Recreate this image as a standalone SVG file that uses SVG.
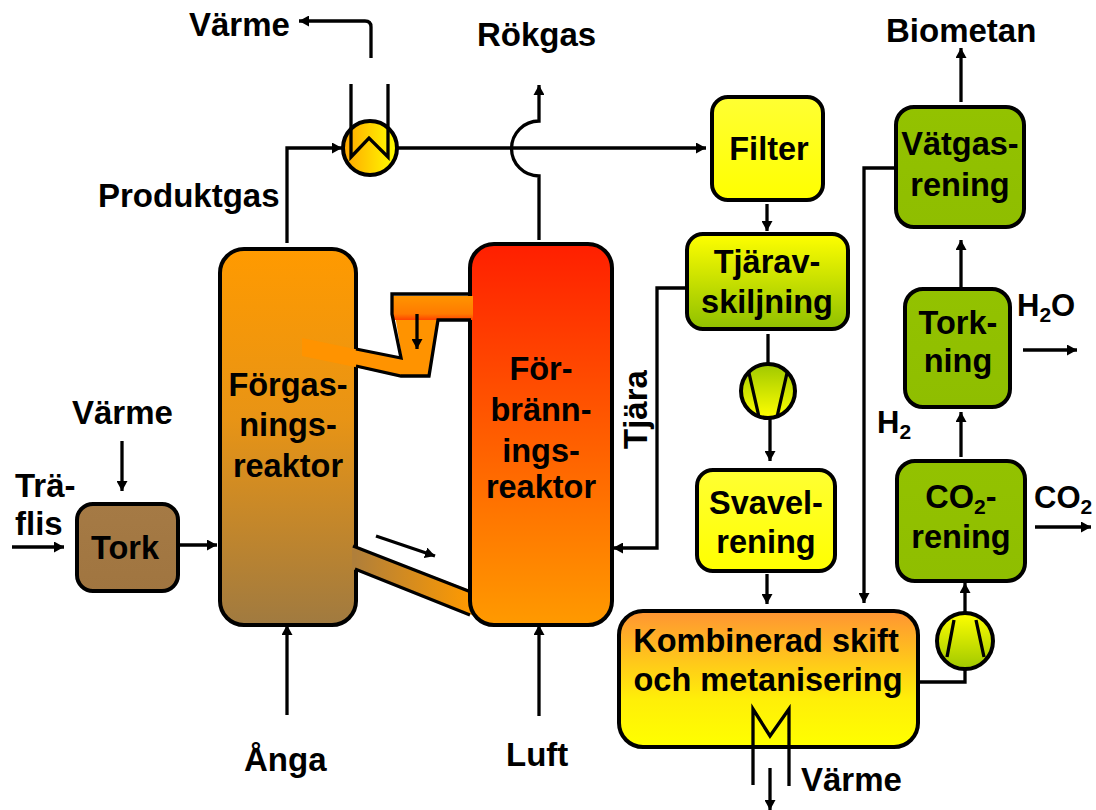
<svg xmlns="http://www.w3.org/2000/svg" width="1096" height="810" viewBox="0 0 1096 810">
<defs>
<marker id="a" markerUnits="userSpaceOnUse" markerWidth="11" markerHeight="11" refX="10" refY="5.500" orient="auto"><path d="M0 0L10 5.500L0 11z" fill="#000"/></marker>
<linearGradient id="gTork" x1="0" y1="0" x2="0" y2="1"><stop offset="0" stop-color="#a57a45"/><stop offset="1" stop-color="#a07540"/></linearGradient>
<linearGradient id="gFor" x1="0" y1="0" x2="0" y2="1"><stop offset="0" stop-color="#ff9a00"/><stop offset=".45" stop-color="#e89415"/><stop offset="1" stop-color="#a07a40"/></linearGradient>
<linearGradient id="gBr" x1="0" y1="0" x2="0" y2="1"><stop offset="0" stop-color="#ff1f00"/><stop offset="1" stop-color="#ff9a00"/></linearGradient>
<linearGradient id="gYel" x1="0" y1="0" x2="0" y2="1"><stop offset="0" stop-color="#ffff33"/><stop offset="1" stop-color="#ffff00"/></linearGradient>
<linearGradient id="gTj" x1="0" y1="0" x2="0" y2="1"><stop offset="0" stop-color="#ffff00"/><stop offset="1" stop-color="#8fc000"/></linearGradient>
<linearGradient id="gGr" x1="0" y1="0" x2="0" y2="1"><stop offset="0" stop-color="#93c200"/><stop offset="1" stop-color="#8fbe00"/></linearGradient>
<linearGradient id="gKomb" x1="0" y1="0" x2="0" y2="1"><stop offset="0" stop-color="#ff9433"/><stop offset=".65" stop-color="#ffef08"/><stop offset="1" stop-color="#ffff00"/></linearGradient>
<linearGradient id="gHx" x1="0" y1="0" x2="1" y2="0"><stop offset="0" stop-color="#ffa500"/><stop offset="1" stop-color="#ffff00"/></linearGradient>
<linearGradient id="gC1" x1="0" y1="0" x2="0" y2="1"><stop offset="0" stop-color="#9fc800"/><stop offset="1" stop-color="#ffff00"/></linearGradient>
<linearGradient id="gC2" x1="0" y1="0" x2="0" y2="1"><stop offset="0" stop-color="#ffff00"/><stop offset="1" stop-color="#9fc800"/></linearGradient>
<linearGradient id="gUpper" gradientUnits="userSpaceOnUse" x1="0" y1="295" x2="0" y2="322"><stop offset="0" stop-color="#ff9600"/><stop offset=".7" stop-color="#ff7a00"/><stop offset="1" stop-color="#ff3000"/></linearGradient>
<linearGradient id="gLow" gradientUnits="userSpaceOnUse" x1="355" y1="0" x2="472" y2="0"><stop offset="0" stop-color="#b07f3a"/><stop offset="1" stop-color="#ff9a00"/></linearGradient>
<style>
text{font-family:"Liberation Sans",Arial,sans-serif;font-weight:700;font-size:32.500px;fill:#000}
.m{text-anchor:middle}
.n{stroke:#000;stroke-width:4}
.l{fill:none;stroke:#000;stroke-width:3.300}
.s{font-size:21px}
#labels text{font-size:33px}
#labels .c{font-size:31px}
#labels tspan.s{font-size:21px}
</style>
</defs>
<g id="tork"><rect class="n" x="77" y="504" width="101" height="87" rx="16" fill="url(#gTork)"/><text class="m" x="125" y="559">Tork</text></g>
<g id="forgasning">
<rect class="n" x="220" y="249" width="136" height="376" rx="24" fill="url(#gFor)"/>
<path d="M352 545L472 591V615L352 569z" fill="url(#gLow)"/>
<path d="M353 546L471 592M355 569L470 615" class="l"/>
<text class="m" x="288" y="396">Förgas-</text><text class="m" x="288" y="436">nings-</text><text class="m" x="288" y="477">reaktor</text></g>
<g id="forbranning">
<rect class="n" x="470" y="244" width="142" height="381" rx="24" fill="url(#gBr)"/>
<text class="m" x="541" y="380">För-</text><text class="m" x="541" y="421">bränn-</text><text class="m" x="541" y="462">ings-</text><text class="m" x="541" y="498">reaktor</text></g>
<g id="loop-seal">
<path d="M302 338L355 349L402 358L392 296H473V320H438L430 377H401L355 367L302 356z" fill="#ff9300"/>
<path d="M393 296H473V320H393z" fill="url(#gUpper)"/>
<path d="M356 349L401 358L392 314V294H471M471 320H438L429 376H401L356 366" class="l"/>
</g>
<g id="warmex"><circle class="n" cx="370" cy="148" r="27" fill="url(#gHx)"/><path class="l" d="M351 84V157L369 138L388 157V84"/></g>
<g id="filter"><rect class="n" x="712" y="97" width="111" height="103" rx="16" fill="url(#gYel)"/><text class="m" x="769" y="160">Filter</text></g>
<g id="tjarav"><rect class="n" x="687" y="234" width="161" height="95" rx="16" fill="url(#gTj)"/><text class="m" x="767" y="273">Tjärav-</text><text class="m" x="767" y="313">skiljning</text></g>
<g id="komp1"><circle class="n" cx="768" cy="391" r="27" fill="url(#gC1)"/><path class="l" d="M749 373L759 417M787 373L777 417"/></g>
<g id="svavel"><rect class="n" x="697" y="470" width="138" height="101" rx="16" fill="url(#gYel)"/><text class="m" x="766" y="514">Svavel-</text><text class="m" x="766" y="553">rening</text></g>
<g id="kombinerad"><rect class="n" x="619" y="611" width="299" height="136" rx="24" fill="url(#gKomb)"/><text class="m" x="766" y="652">Kombinerad skift</text><text class="m" x="768" y="691">och metanisering</text><path class="l" d="M753 785V709L770 736L789 709V786"/></g>
<g id="komp2"><circle class="n" cx="965" cy="641" r="28" fill="url(#gC2)"/><path class="l" d="M954 620L947 657M976 620L984 657"/></g>
<g id="co2"><rect class="n" x="897" y="461" width="128" height="120" rx="18" fill="url(#gGr)"/><text class="m" x="961" y="508">CO<tspan class="s" dy="6">2</tspan><tspan dy="-6">-</tspan></text><text class="m" x="961" y="548">rening</text></g>
<g id="torkning"><rect class="n" x="905" y="289" width="105" height="118" rx="18" fill="url(#gGr)"/><text class="m" x="958" y="334">Tork-</text><text class="m" x="958" y="372">ning</text></g>
<g id="vatgas"><rect class="n" x="896" y="107" width="128" height="120" rx="18" fill="url(#gGr)"/><text class="m" x="960" y="155">Vätgas-</text><text class="m" x="960" y="196">rening</text></g>
<g id="connectors" class="l">
<path d="M12 547H64" marker-end="url(#a)"/>
<path d="M122 441V491" marker-end="url(#a)"/>
<path d="M180 545H217" marker-end="url(#a)"/>
<path d="M287 715V625" marker-end="url(#a)"/>
<path d="M539 716V625" marker-end="url(#a)"/>
<path d="M287 243V148H342" marker-end="url(#a)"/>
<path d="M398 148H706" marker-end="url(#a)"/>
<path d="M371 58V27Q371 21 365 21H299" marker-end="url(#a)"/>
<path d="M539 240V176A27.500 27.500 0 0 1 539 121V85" marker-end="url(#a)"/>
<path d="M767 204V231" marker-end="url(#a)"/>
<path d="M768 334V363"/>
<path d="M770 418V461" marker-end="url(#a)"/>
<path d="M767 574V604" marker-end="url(#a)"/>
<path d="M685 288H657V548H613" marker-end="url(#a)"/>
<path d="M896 168H864V603" marker-end="url(#a)"/>
<path d="M919 682H965V669"/>
<path d="M965 613V583" marker-end="url(#a)"/>
<path d="M961 457V412" marker-end="url(#a)"/>
<path d="M961 287V240" marker-end="url(#a)"/>
<path d="M961 102V48" marker-end="url(#a)"/>
<path d="M1023 350H1077" marker-end="url(#a)"/>
<path d="M1035 527H1091" marker-end="url(#a)"/>
<path d="M770 768V810" marker-end="url(#a)"/>
<path d="M376 536L435 556" marker-end="url(#a)"/>
<path d="M417 314V349" marker-end="url(#a)"/>
</g>
<g id="labels">
<text x="189" y="36">Värme</text>
<text x="477" y="46">Rökgas</text>
<text x="886" y="42">Biometan</text>
<text x="98" y="207">Produktgas</text>
<text x="72" y="424">Värme</text>
<text x="15" y="497">Trä-</text>
<text x="15" y="535">flis</text>
<text x="244" y="771">Ånga</text>
<text x="506" y="766">Luft</text>
<text x="801" y="791">Värme</text>
<text transform="translate(647 449) rotate(-90)">Tjära</text>
<text class="c" x="877" y="433">H<tspan class="s" dy="6">2</tspan></text>
<text class="c" x="1017" y="316">H<tspan class="s" dy="6">2</tspan><tspan dy="-6">O</tspan></text>
<text class="c" x="1034" y="508">CO<tspan class="s" dy="6">2</tspan></text>
</g>
</svg>
